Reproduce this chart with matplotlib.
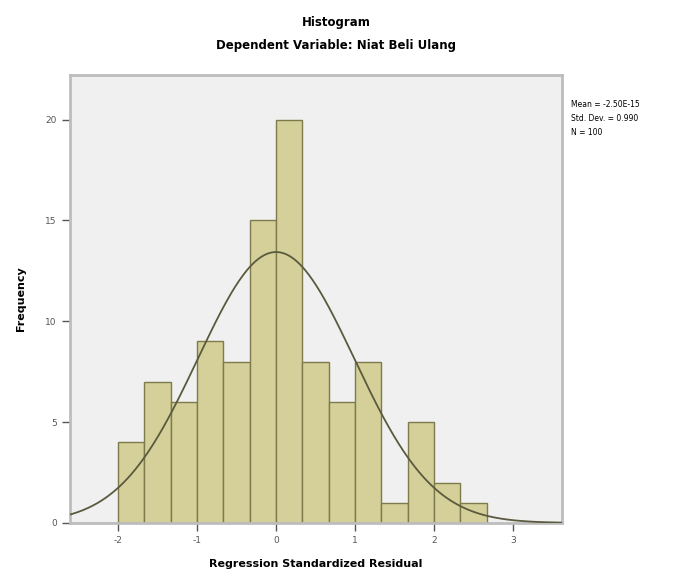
import numpy as np
import matplotlib
matplotlib.use("Agg")
import matplotlib.pyplot as plt

# SPSS residual histogram: counts per bin of width 1/3, starting at -2
bin_start = -2.0
bin_width = 1.0 / 3.0
counts = [4, 7, 6, 9, 8, 15, 20, 8, 6, 8, 1, 5, 2, 1]
x_ticks = [-2, -1, 0, 1, 2, 3]
y_ticks = [0, 5, 10, 15, 20]
mean_val = 0.0
std_val = 0.990
n_obs = 100
stats_text = "Mean = -2.50E-15\nStd. Dev. = 0.990\nN = 100"

plt.rcParams["axes.unicode_minus"] = False

fig = plt.figure(figsize=(6.73, 5.83), dpi=100)
ax = fig.add_axes([0.104, 0.103, 0.731, 0.768])
ax.set_facecolor("#f0f0f0")

edges = bin_start + bin_width * np.arange(len(counts) + 1)
ax.bar(edges[:-1], counts, width=bin_width, align="edge",
       color="#d5d09a", edgecolor="#7d7a4c", linewidth=1.0, zorder=2)

# fitted normal curve scaled to counts
xs = np.linspace(-2.7, 3.7, 400)
ys = n_obs * bin_width / (std_val * np.sqrt(2 * np.pi)) * np.exp(-0.5 * ((xs - mean_val) / std_val) ** 2)
ax.plot(xs, ys, color="#5a5a3e", linewidth=1.3, zorder=3)

ax.set_xlim(-2.61, 3.62)
ax.set_ylim(0, 22.2)
ax.set_xticks(x_ticks)
ax.set_yticks(y_ticks)
ax.tick_params(axis="both", labelsize=6.5, colors="#555555", length=6, width=1.0, direction="out")
for s in ax.spines.values():
    s.set_color("#bdbdbd")
    s.set_linewidth(2.0)

ax.set_xlabel("Regression Standardized Residual", fontsize=8, fontweight="bold", labelpad=10)
ax.set_ylabel("Frequency", fontsize=8, fontweight="bold", labelpad=14)

fig.text(0.5, 0.962, "Histogram", ha="center", va="center", fontsize=8.5, fontweight="bold")
fig.text(0.5, 0.922, "Dependent Variable: Niat Beli Ulang", ha="center", va="center", fontsize=8.5, fontweight="bold")
fig.text(0.849, 0.797, stats_text, ha="left", va="center", fontsize=5.5, linespacing=1.7)

fig.savefig("out.png", dpi=100)
